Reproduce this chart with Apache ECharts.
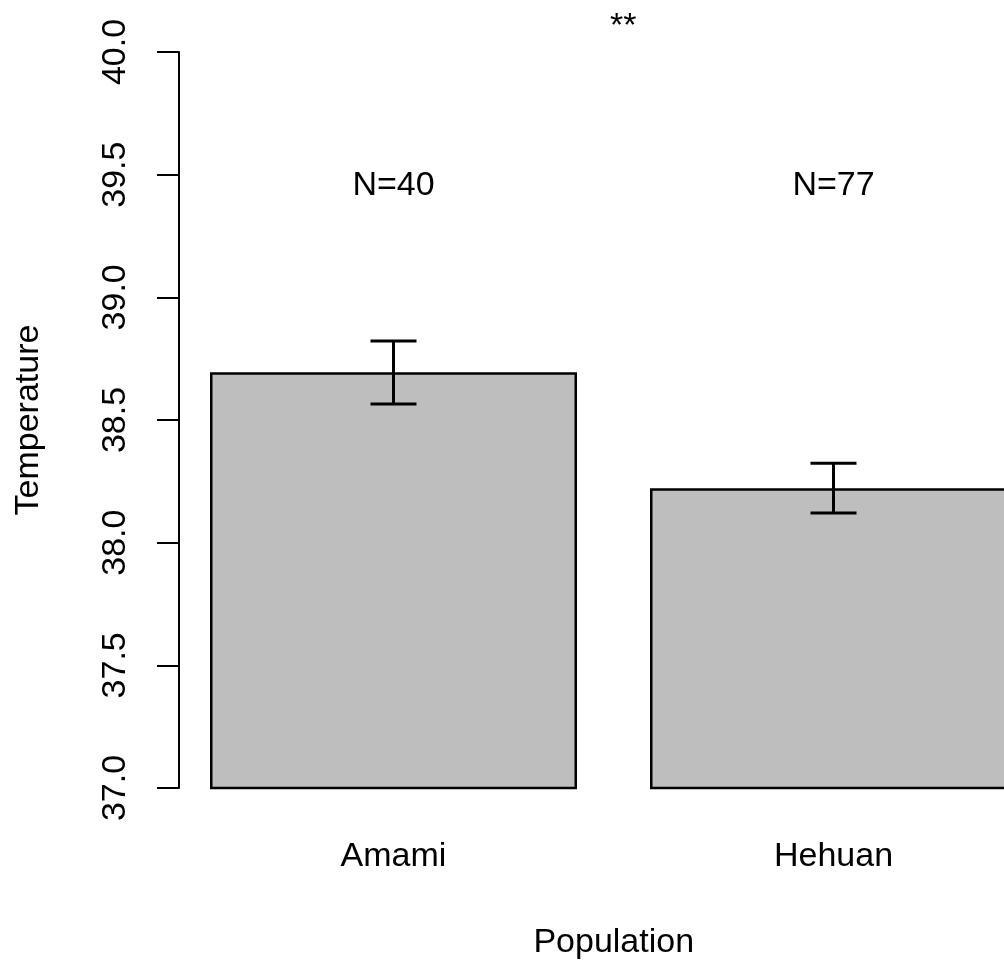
<!DOCTYPE html>
<html>
<head>
<meta charset="utf-8">
<script src="https://cdn.jsdelivr.net/npm/echarts@6/dist/echarts.min.js"></script>
<style>
html,body{margin:0;padding:0;background:#fff;}
#chart{width:1004px;height:965px;}
</style>
</head>
<body>
<div id="chart"></div>
<script>
// ---- data ----
const categories = ['Amami', 'Hehuan'];
const means = [38.695, 38.222];
const upper = [38.822, 38.324];
const lower = [38.565, 38.121];
const nLabels = ['N=40', 'N=77'];
const nLabelY = 39.455;
const yTicks = { min: 37, max: 40, interval: 0.5 };
const signif = '**';

const FONT = '"Liberation Sans", Arial, sans-serif';
const chart = echarts.init(document.getElementById('chart'), null, { renderer: 'canvas' });

// x positions: category index; the plot region runs past the right edge of the picture
const xMin = -0.5, xMax = 1.3875;

const option = {
  backgroundColor: '#ffffff',
  animation: false,
  grid: { left: 173.5, right: 0, top: 52, bottom: 175, containLabel: false },
  xAxis: {
    type: 'value',
    min: xMin,
    max: xMax,
    splitLine: { show: false },
    axisLine: { show: false, onZero: false },
    axisTick: { show: false },
    axisLabel: {
      color: '#000', fontFamily: FONT, fontSize: 34, margin: 52,
      customValues: categories.map((c, i) => i),
      formatter: v => categories[Math.round(v)] || ''
    },
    name: 'Population',
    nameLocation: 'middle',
    nameGap: 138,
    nameTextStyle: { color: '#000', fontFamily: FONT, fontSize: 34, padding: [0, 0, 0, 50] }
  },
  yAxis: {
    type: 'value',
    min: yTicks.min,
    max: yTicks.max,
    interval: yTicks.interval,
    offset: -5.5,
    splitLine: { show: false },
    axisLine: { show: true, onZero: false, lineStyle: { color: '#000', width: 2 } },
    axisTick: { show: true, length: 22, lineStyle: { color: '#000', width: 2 } },
    axisLabel: {
      color: '#000', fontFamily: FONT, fontSize: 34, rotate: 90, margin: 46,
      formatter: v => v.toFixed(1)
    },
    name: 'Temperature',
    nameLocation: 'middle',
    nameGap: 133,
    nameRotate: 90,
    nameTextStyle: { color: '#000', fontFamily: FONT, fontSize: 34 }
  },
  graphic: [{
    type: 'text', left: 610, top: 10,
    style: { text: signif, fill: '#000', font: '34px ' + FONT }
  }],
  series: [
    {
      type: 'bar',
      data: means.map((m, i) => [i, m]),
      barWidth: 367,
      itemStyle: { color: '#bebebe', borderColor: '#000', borderWidth: 2.5 },
      clip: true
    },
    {
      type: 'custom',
      data: categories.map((c, i) => [i, lower[i], upper[i]]),
      renderItem: function (params, api) {
        const x = api.value(0);
        const lo = api.coord([x, api.value(1)]);
        const hi = api.coord([x, api.value(2)]);
        const cap = 23;
        const s = { stroke: '#000', lineWidth: 3 };
        return {
          type: 'group',
          children: [
            { type: 'line', shape: { x1: hi[0], y1: hi[1], x2: lo[0], y2: lo[1] }, style: s },
            { type: 'line', shape: { x1: hi[0] - cap, y1: hi[1], x2: hi[0] + cap, y2: hi[1] }, style: s },
            { type: 'line', shape: { x1: lo[0] - cap, y1: lo[1], x2: lo[0] + cap, y2: lo[1] }, style: s }
          ]
        };
      },
      z: 5
    },
    {
      type: 'custom',
      data: nLabels.map((t, i) => [i, nLabelY]),
      renderItem: function (params, api) {
        const p = api.coord([api.value(0), api.value(1)]);
        return {
          type: 'text',
          style: {
            x: p[0], y: p[1], text: nLabels[params.dataIndex],
            fill: '#000', font: '34px ' + FONT, textAlign: 'center', textVerticalAlign: 'middle'
          }
        };
      },
      z: 5
    }
  ]
};
chart.setOption(option);
</script>
</body>
</html>
